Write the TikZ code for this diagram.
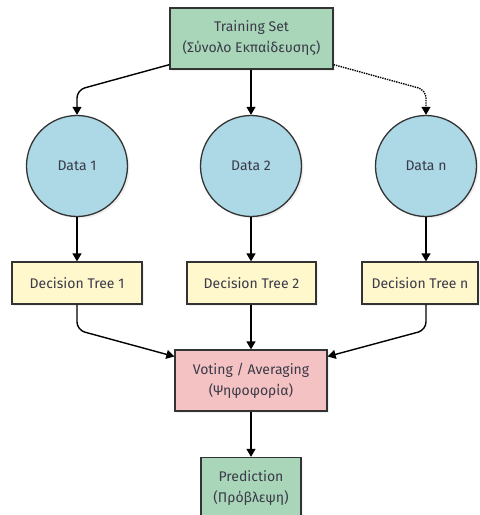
\documentclass[tikz,border=0pt]{standalone}
\usepackage{fontspec}
\setmainfont{Fira Sans}
\usetikzlibrary{arrows.meta,shadows,calc}
\definecolor{trainfill}{HTML}{A9D6B9}
\definecolor{datafill}{HTML}{ADD8E6}
\definecolor{treefill}{HTML}{FFF8CD}
\definecolor{votefill}{HTML}{F4C2C2}
\definecolor{edgegray}{HTML}{333333}
\definecolor{textgray}{HTML}{3A3A48}
\tikzset{
  box/.style={draw=edgegray, line width=1.3pt, text=textgray, align=center,
    inner sep=0pt, font=\fontsize{14}{21}\selectfont,
    drop shadow={opacity=0.12, shadow xshift=2pt, shadow yshift=-2pt}},
  datanode/.style={box, circle, fill=datafill, minimum size=101pt},
  treenode/.style={box, fill=treefill, minimum height=42pt},
  link/.style={line width=1.4pt, -{Triangle[length=8pt,width=9pt]}, rounded corners=8pt},
}

\begin{document}
\begin{tikzpicture}[x=1pt, y=-1pt]
			%%%%% START %%%%%
			\useasboundingbox (0,0) rectangle (480,515);
			
			\node[box, fill=trainfill, minimum width=163pt, minimum height=61pt] (train) at (251.5,38.5) {Training Set\\(Σύνολο Εκπαίδευσης)};
			
			\node[datanode] (d1) at (77,166) {Data 1};
			\node[datanode] (d2) at (251,166) {Data 2};
			\node[datanode] (dn) at (426,166) {Data n};
			
			\node[treenode, minimum width=130pt] (t1) at (77,283) {Decision Tree 1};
			\node[treenode, minimum width=129pt] (t2) at (251.5,283) {Decision Tree 2};
			\node[treenode, minimum width=116pt] (tn) at (420,283) {Decision Tree n};
			
			\node[box, fill=votefill, minimum width=152pt, minimum height=61pt] (vote) at (251,380.5) {Voting / Averaging\\(Ψηφοφορία)};
			\node[box, fill=trainfill, minimum width=100pt, minimum height=61pt] (pred) at (251,488) {Prediction\\(Πρόβλεψη)};
			
			\draw[link] ($(train.south west)+(0,-5)$) -- (77,90) -- (d1.north);
			\draw[link] (train.south -| d2) -- (d2.north);
			\draw[link, densely dotted] ($(train.south east)+(0,-5)$) -- (426,90) -- (dn.north);
			
			\draw[link] (d1.south) -- (t1.north -| d1);
			\draw[link] (d2.south) -- (t2.north -| d2);
			\draw[link] (dn.south) -- (tn.north -| dn);
			
			\draw[link] (t1.south -| d1) -- (77,330) -- ($(vote.west)+(0,-24)$);
			\draw[link] (t2.south -| d2) -- (vote.north -| d2);
			\draw[link] (tn.south -| dn) -- (426,330) -- ($(vote.east)+(0,-24)$);
			
			\draw[link] (vote.south -| d2) -- (pred.north -| d2);
			%%%%% END %%%%%
\end{tikzpicture}
\end{document}
